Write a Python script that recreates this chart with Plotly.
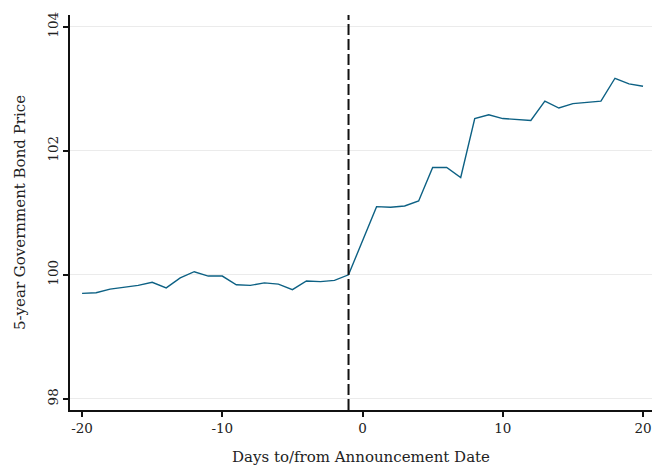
import plotly.graph_objects as go

days = [-20, -19, -18, -17, -16, -15, -14, -13, -12, -11, -10, -9, -8, -7, -6, -5, -4, -3, -2, -1,
        1, 2, 3, 4, 5, 6, 7, 8, 9, 10, 11, 12, 13, 14, 15, 16, 17, 18, 19, 20]
price = [99.70, 99.71, 99.77, 99.80, 99.83, 99.88, 99.79, 99.95, 100.05, 99.98, 99.98, 99.84, 99.83,
         99.87, 99.85, 99.76, 99.90, 99.89, 99.91, 100.00,
         101.10, 101.09, 101.11, 101.19, 101.73, 101.73, 101.57, 102.52, 102.58, 102.52, 102.50,
         102.49, 102.80, 102.69, 102.76, 102.78, 102.80, 103.17, 103.08, 103.04]
event_day = -1
x_ticks = [-20, -10, 0, 10, 20]
y_ticks = [98, 100, 102, 104]

font = "DejaVu Serif"

fig = go.Figure()
fig.add_trace(go.Scatter(x=days, y=price, mode="lines",
                         line=dict(color="#0d6184", width=1.4), showlegend=False))
fig.add_shape(type="line", x0=event_day, x1=event_day, y0=0, y1=1, yref="paper",
              line=dict(color="#111", width=2, dash="11px,4px"))

fig.update_layout(
    width=652, height=466,
    margin=dict(l=70, r=0, t=15, b=56),
    plot_bgcolor="white", paper_bgcolor="white",
    font=dict(family=font, size=13.5, color="#222"),
    xaxis=dict(range=[-20.86, 20.64], tickvals=x_ticks, ticktext=[str(v) for v in x_ticks],
               automargin=False,
               showgrid=False, zeroline=False, showline=True, linecolor="#111", linewidth=1.5,
               ticks="outside", ticklen=5, tickwidth=1.5, tickcolor="#111",
               title=dict(text="Days to/from Announcement Date", standoff=18, font=dict(size=15))),
    yaxis=dict(range=[97.82, 104.19], tickvals=y_ticks, tickangle=-90,
               automargin=False,
               showgrid=True, gridcolor="#ebebeb", gridwidth=1, zeroline=False,
               showline=True, linecolor="#111", linewidth=1.5,
               ticks="outside", ticklen=5, tickwidth=1.5, tickcolor="#111",
               title=dict(text="5-year Government Bond Price", standoff=16, font=dict(size=15))),
)

fig.write_html("out.html", config={"displayModeBar": False},
               post_script="document.body.style.margin='0';document.body.style.overflow='hidden';")
